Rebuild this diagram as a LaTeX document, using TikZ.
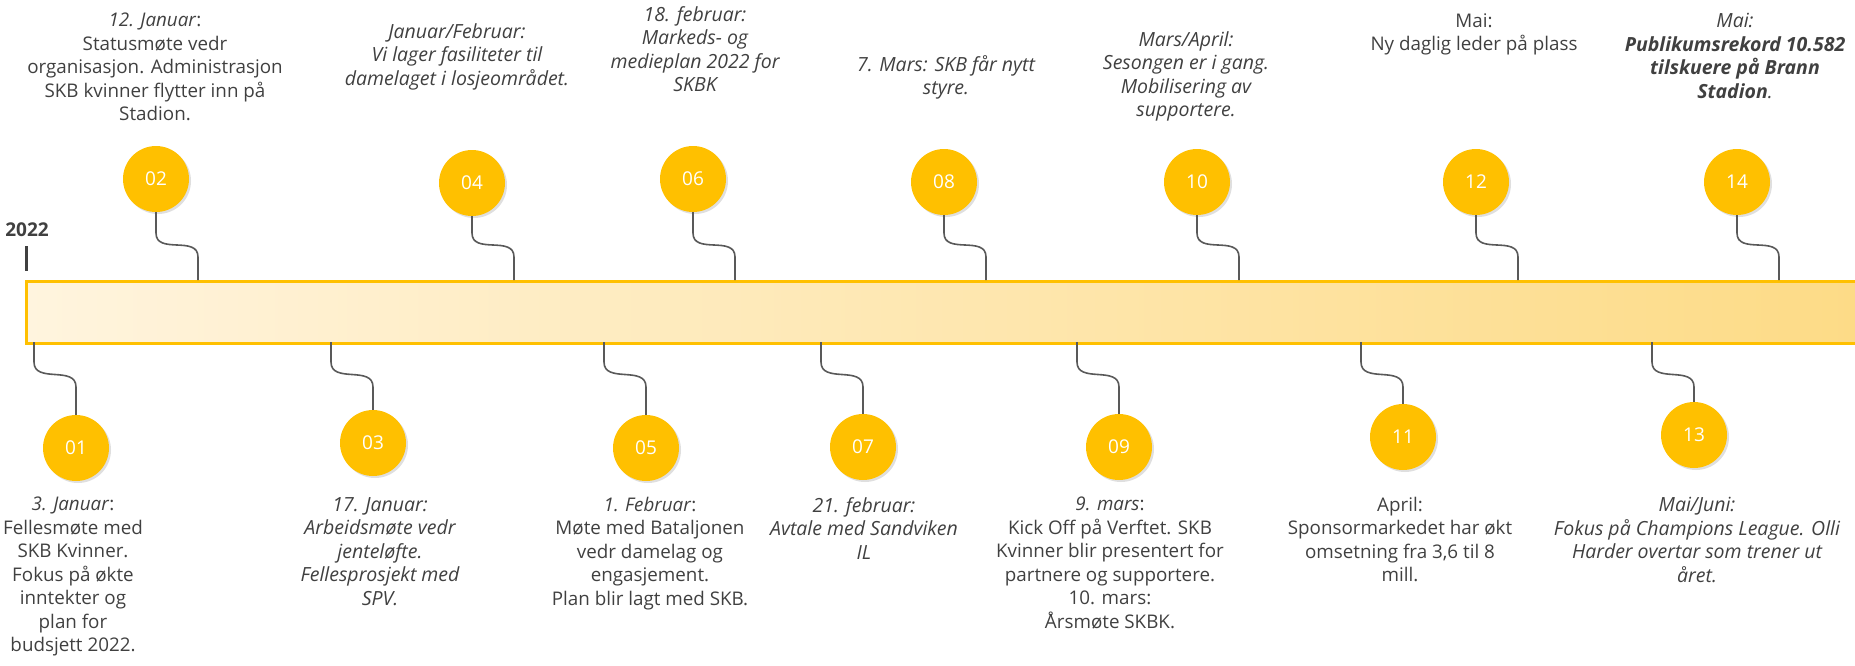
\documentclass[tikz,border=0pt]{standalone}
\usepackage{fontspec}
\setmainfont{Open Sans}
\usetikzlibrary{shadows}
\definecolor{gold}{HTML}{FFC000}
\definecolor{ink}{HTML}{404040}
\definecolor{wirec}{HTML}{595959}
\definecolor{barl}{HTML}{FFF4DE}
\definecolor{barm}{HTML}{FEE7B0}
\definecolor{barr}{HTML}{FDDB86}

\begin{document}
\begin{tikzpicture}[x=1pt,y=-1pt,
  dot/.style={circle,fill=gold,minimum size=66pt,inner sep=0pt,text=white,
    font=\fontsize{19}{23}\selectfont,
    drop shadow={shadow xshift=2pt,shadow yshift=-2pt,opacity=0.25}},
  note/.style={align=center,text=ink,inner sep=0pt,anchor=north,
    font=\fontsize{18.8}{23.5}\selectfont},
  noteit/.style={note,font=\fontsize{19.5}{23.5}\selectfont\itshape},
  wire/.style={wirec,line width=1.6pt}]
\useasboundingbox (0,0) rectangle (1855,665);

\node [font=\bfseries\fontsize{19}{23}\selectfont, text=ink] (yr) at (27,230) {2022};
\draw [ink, line width=3pt] (26,246) -- (26,271);

\node [draw=gold, line width=2.5pt, left color=barl, right color=barr, middle color=barm,
  minimum width=1850pt, minimum height=62pt, inner sep=0pt, anchor=north west] (bar) at (25,280) {};

\foreach \n/\x/\y in {02/156/179,04/472/183,06/693/179,08/944/182,10/1197/182,12/1476/182,14/1737/182}{
  \node [dot] (c\n) at (\x,\y) {\n};
  \coordinate (p\n) at (\x+42,280);
  \draw [wire] (p\n) -- ++(0,-23) .. controls +(0,-22) and +(0,22) .. ++(-42,-24) -- (c\n.south);
}
\foreach \n/\x/\y in {01/76/448,03/373/443,05/646/448,07/863/447,09/1119/447,11/1403/437,13/1694/435}{
  \node [dot] (c\n) at (\x,\y) {\n};
  \coordinate (q\n) at (\x-42,342);
  \draw [wire] (q\n) -- ++(0,20) .. controls +(0,22) and +(0,-22) .. ++(42,25) -- (c\n.north);
}

\node [note] (t02) at (155,13) {\textit{12. Januar}:\\Statusmøte vedr\\organisasjon. Administrasjon\\SKB kvinner flytter inn på\\Stadion.};
\node [noteit] (t04) at (457,23) {Januar/Februar:\\Vi lager fasiliteter til\\damelaget i losjeområdet.};
\node [noteit] (t06) at (695,6) {18. februar:\\Markeds- og\\medieplan 2022 for\\SKBK};
\node [noteit] (t08) at (946,55) {7. Mars: SKB får nytt\\styre.};
\node [noteit] (t10) at (1186,31) {Mars/April:\\Sesongen er i gang.\\Mobilisering av\\supportere.};
\node [note] (t12) at (1474,13) {Mai:\\Ny daglig leder på plass};
\node [noteit] (t14) at (1735,13) {Mai:\\\textbf{Publikumsrekord 10.582}\\\textbf{tilskuere på Brann}\\\textbf{Stadion}.};

\node [note] (t01) at (73,497) {\textit{3. Januar}:\\Fellesmøte med\\SKB Kvinner.\\Fokus på økte\\inntekter og\\plan for\\budsjett 2022.};
\node [noteit] (t03) at (380,497) {17. Januar:\\Arbeidsmøte vedr\\jenteløfte.\\Fellesprosjekt med\\SPV.};
\node [note] (t05) at (650,497) {\textit{1. Februar}:\\Møte med Bataljonen\\vedr damelag og\\engasjement.\\Plan blir lagt med SKB.};
\node [noteit] (t07) at (864,497) {21. februar:\\Avtale med Sandviken\\IL};
\node [note] (t09) at (1110,497) {\textit{9. mars}:\\Kick Off på Verftet. SKB\\Kvinner blir presentert for\\partnere og supportere.\\10. mars:\\Årsmøte SKBK.};
\node [note] (t11) at (1400,497) {April:\\Sponsormarkedet har økt\\omsetning fra 3,6 til 8\\mill.};
\node [noteit] (t13) at (1697,497) {Mai/Juni:\\Fokus på Champions League. Olli\\Harder overtar som trener ut\\året.};
\end{tikzpicture}
\end{document}
